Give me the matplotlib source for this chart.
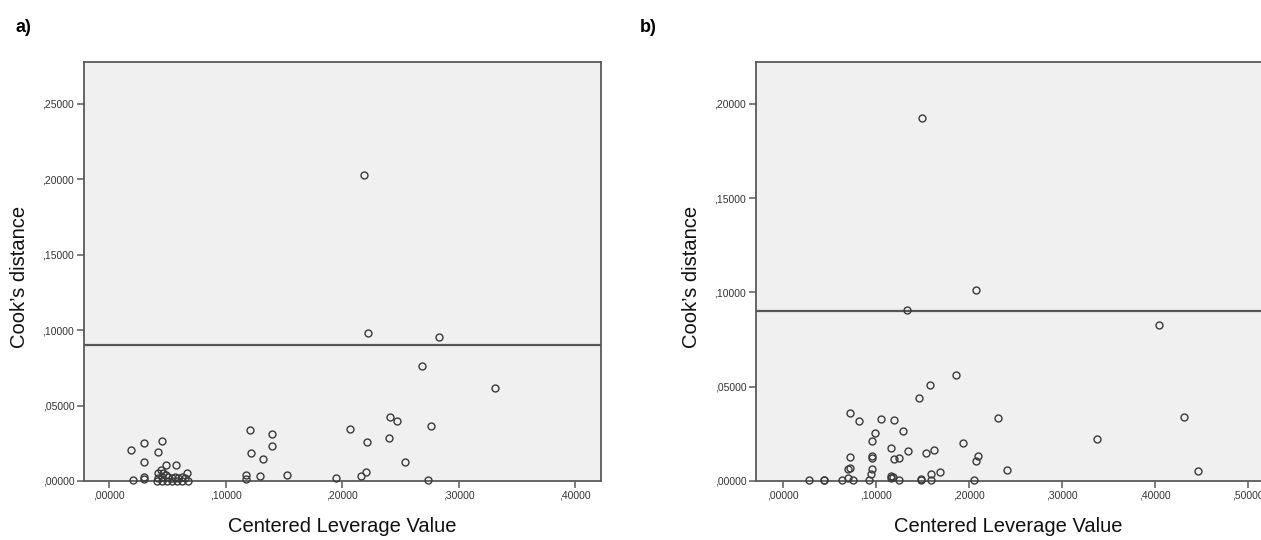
import matplotlib
matplotlib.use("Agg")
import matplotlib.pyplot as plt
from matplotlib.ticker import FuncFormatter, FixedLocator

# ---------------- data ----------------
lev_a = [0.2191, 0.2220, 0.2827, 0.2689, 0.3311, 0.2412, 0.2469, 0.2068, 0.2764,
         0.2400, 0.2214, 0.2540, 0.2208, 0.2165, 0.1950, 0.2733,
         0.1206, 0.1398, 0.1398, 0.1217, 0.1320, 0.1172, 0.1172, 0.1295, 0.1527,
         0.0184, 0.0301, 0.0455, 0.0421, 0.0301, 0.0487, 0.0576, 0.0667, 0.0301,
         0.0301, 0.0206,
         0.0421, 0.0444, 0.0464, 0.0487, 0.0421, 0.0450, 0.0507, 0.0536, 0.0564,
         0.0593, 0.0622, 0.0650, 0.0407, 0.0450, 0.0493, 0.0536, 0.0579, 0.0622,
         0.0673]
cook_a = [0.2029, 0.0980, 0.0954, 0.0762, 0.0618, 0.0422, 0.0400, 0.0346, 0.0362,
          0.0287, 0.0258, 0.0124, 0.0060, 0.0031, 0.0022, 0.0007,
          0.0336, 0.0309, 0.0234, 0.0188, 0.0148, 0.0038, 0.0013, 0.0031, 0.0038,
          0.0203, 0.0252, 0.0265, 0.0194, 0.0128, 0.0104, 0.0104, 0.0053, 0.0029,
          0.0010, 0.0007,
          0.0055, 0.0073, 0.0055, 0.0040, 0.0018, 0.0024, 0.0024, 0.0018, 0.0029,
          0.0018, 0.0024, 0.0018, 0.0003, 0.0003, 0.0003, 0.0003, 0.0003, 0.0003,
          0.0003]

lev_b = [0.1497, 0.2083, 0.1339, 0.4043, 0.1866, 0.1584, 0.1463, 0.0725, 0.0825,
         0.1061, 0.1201, 0.2311, 0.4316, 0.1291, 0.0990, 0.0961, 0.1936, 0.3378,
         0.1165, 0.1348, 0.1541, 0.1631, 0.2103, 0.2082, 0.0725, 0.0961, 0.0961,
         0.1198, 0.1248, 0.0704, 0.0729, 0.0961, 0.0947, 0.1598, 0.1695, 0.2408,
         0.4460, 0.1165, 0.1183, 0.1165,
         0.0285, 0.0442, 0.0446, 0.0639, 0.0704, 0.0754, 0.0932, 0.1255, 0.1488,
         0.1492, 0.1598, 0.2060]
cook_b = [0.1927, 0.1015, 0.0908, 0.0826, 0.0562, 0.0507, 0.0439, 0.0361, 0.0320,
          0.0329, 0.0322, 0.0332, 0.0341, 0.0265, 0.0255, 0.0214, 0.0200, 0.0221,
          0.0175, 0.0161, 0.0150, 0.0162, 0.0131, 0.0108, 0.0127, 0.0131, 0.0120,
          0.0117, 0.0124, 0.0066, 0.0069, 0.0064, 0.0036, 0.0037, 0.0050, 0.0059,
          0.0053, 0.0027, 0.0020, 0.0015,
          0.0007, 0.0007, 0.0004, 0.0007, 0.0015, 0.0007, 0.0007, 0.0007, 0.0007,
          0.0010, 0.0007, 0.0007]

ref_a = 0.0902
ref_b = 0.0899

xticks_a = [0.0, 0.1, 0.2, 0.3, 0.4]
yticks_a = [0.0, 0.05, 0.10, 0.15, 0.20, 0.25]
xticks_b = [0.0, 0.1, 0.2, 0.3, 0.4, 0.5]
yticks_b = [0.0, 0.05, 0.10, 0.15, 0.20]

# ---------------- style ----------------
plt.rcParams['font.family'] = ['Liberation Sans', 'DejaVu Sans']
W, H = 1261, 540
fig = plt.figure(figsize=(W / 100, H / 100), dpi=100)

def fmt(v, pos=None):
    s = f"{v:.5f}"
    if s.startswith("0"):
        s = s[1:]
    return s.replace(".", ",")

spine_col = "#5a5a5a"
mark_col = "#3a3a3a"

def setup(ax, xlim, ylim, xt, yt, hide_right=False):
    ax.set_facecolor("#f0f0f0")
    ax.set_xlim(*xlim)
    ax.set_ylim(*ylim)
    ax.xaxis.set_major_locator(FixedLocator(xt))
    ax.yaxis.set_major_locator(FixedLocator(yt))
    ax.xaxis.set_major_formatter(FuncFormatter(fmt))
    ax.yaxis.set_major_formatter(FuncFormatter(fmt))
    for s in ax.spines.values():
        s.set_color(spine_col)
        s.set_linewidth(1.3)
    if hide_right:
        ax.spines['right'].set_visible(False)
    ax.tick_params(axis='both', direction='out', length=5, width=1.1,
                   color=spine_col, labelsize=7.5, labelcolor="#333333", pad=2)
    ax.set_xlabel("Centered Leverage Value", fontsize=14.5, color="#111111")
    ax.set_ylabel("Cook\u2019s distance", fontsize=14.5, color="#111111")

bottom = 1 - 481 / H
top = 1 - 62 / H

# panel a
axa = fig.add_axes([84 / W, bottom, (601 - 84) / W, top - bottom])
setup(axa, (-0.0217, 0.4222), (0.0, 0.2775), xticks_a, yticks_a)
axa.axhline(ref_a, color="#555555", lw=1.6, zorder=2)
axa.plot(lev_a, cook_a, linestyle='none', marker='o', markersize=5,
         markerfacecolor='none', markeredgecolor=mark_col, markeredgewidth=1.0,
         zorder=3, clip_on=False)
axa.xaxis.set_label_coords(0.5, -0.086)
axa.yaxis.set_label_coords(-0.106, 0.486)

# panel b
axb = fig.add_axes([756 / W, bottom, (W - 756) / W, top - bottom])
setup(axb, (-0.0285, -0.0285 + 505 / 931), (0.0, 0.2222), xticks_b, yticks_b,
      hide_right=True)
axb.axhline(ref_b, color="#555555", lw=1.6, zorder=2)
axb.plot(lev_b, cook_b, linestyle='none', marker='o', markersize=5,
         markerfacecolor='none', markeredgecolor=mark_col, markeredgewidth=1.0,
         zorder=3, clip_on=False)
axb.xaxis.set_label_coords(0.5, -0.086)
axb.yaxis.set_label_coords(-0.108, 0.486)

fig.text(16 / W, 1 - 27 / H, "a)", fontsize=13, fontweight='bold', va='center')
fig.text(640 / W, 1 - 27 / H, "b)", fontsize=13, fontweight='bold', va='center')

fig.savefig("out.png", dpi=100)
